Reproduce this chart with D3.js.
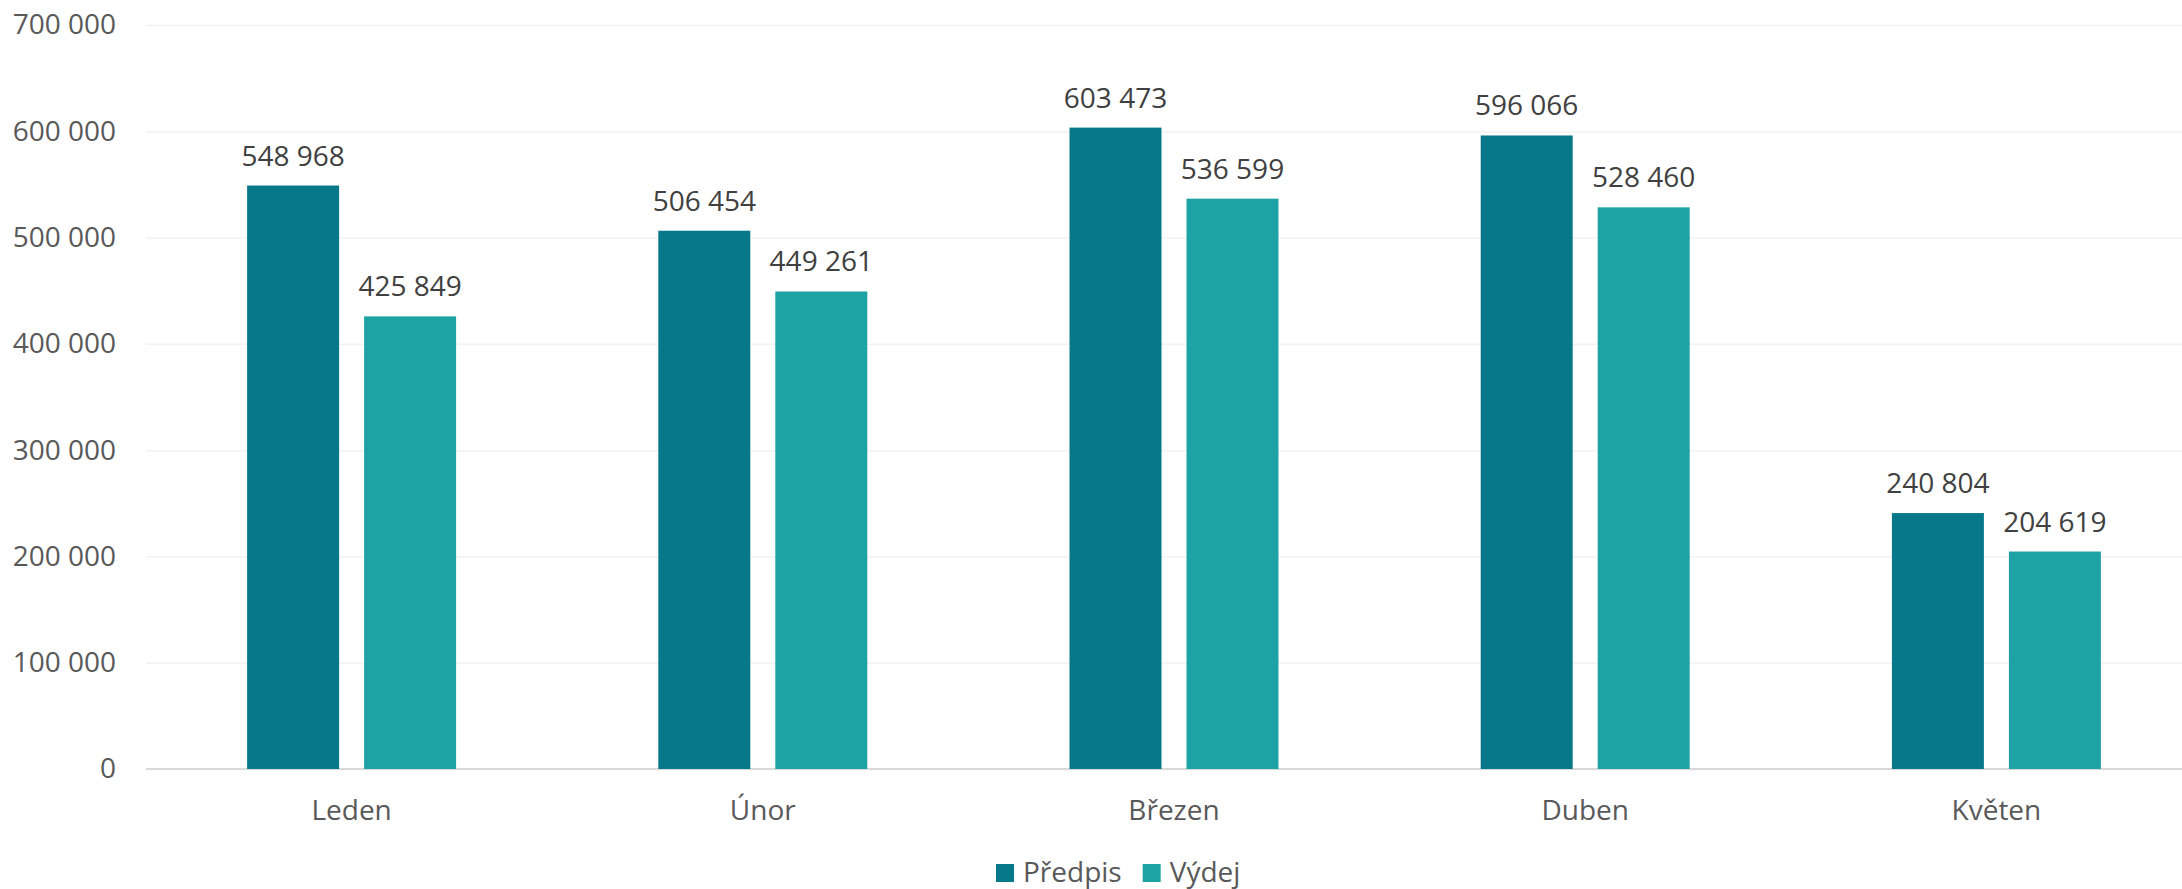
<!DOCTYPE html>
<html>
<head>
<meta charset="utf-8">
<script src="https://cdn.jsdelivr.net/npm/d3@7"></script>
<style>
    body { margin: 0; background: #ffffff; }
    svg { display: block; font-family: "Open Sans", sans-serif; }
</style>
</head>
<body>
<div id="chart"></div>
<script>
var months = ["Leden", "Únor", "Březen", "Duben", "Květen"];
var seriesNames = ["Předpis", "Výdej"];
var predpis = [548968, 506454, 603473, 596066, 240804];
var vydej = [425849, 449261, 536599, 528460, 204619];
var yTicks = [0, 100000, 200000, 300000, 400000, 500000, 600000, 700000];

var colors = { "Předpis": "#07788A", "Výdej": "#1EA3A4" };

var width = 2182, height = 889;
// window.top is read-only, so plot edges get their own names
var plotLeft = 146, plotRight = 2202, plotTop = 25, plotBottom = 769;

var locale = d3.formatLocale({ decimal: ",", thousands: " ", grouping: [3], currency: ["", ""] });
var fmt = locale.format(",");

var data = months.map(function (m, i) {
    return { month: m, values: [
        { name: "Předpis", value: predpis[i] },
        { name: "Výdej", value: vydej[i] }
    ]};
});

var svg = d3.select("#chart").append("svg")
    .attr("width", width)
    .attr("height", height)
    .style("overflow", "hidden");

var x0 = d3.scaleBand().domain(months).range([plotLeft, plotRight])
    .paddingInner(0.4918).paddingOuter(0.2459);
var x1 = d3.scaleBand().domain(seriesNames).range([0, x0.bandwidth()])
    .paddingInner(0.2137).paddingOuter(0);
var y = d3.scaleLinear().domain([0, 700000]).range([plotBottom, plotTop]);

// gridlines + y labels
var yAxis = svg.append("g")
    .attr("transform", "translate(" + plotLeft + ",0)")
    .call(d3.axisLeft(y).tickValues(yTicks).tickFormat(fmt)
        .tickSize(-(width - plotLeft)).tickPadding(30));
yAxis.select(".domain").remove();
yAxis.selectAll("line").attr("stroke", "#f2f2f2").attr("stroke-width", 1.5);
yAxis.selectAll("text")
    .attr("fill", "#595959")
    .style("font-size", "28px")
    .style("font-family", "'Open Sans', sans-serif");

// zero line
svg.append("line")
    .attr("x1", plotLeft).attr("x2", width)
    .attr("y1", y(0)).attr("y2", y(0))
    .attr("stroke", "#d9d9d9").attr("stroke-width", 2);

var groups = svg.selectAll(".grp")
    .data(data)
    .enter().append("g")
    .attr("class", "grp")
    .attr("transform", function (d) { return "translate(" + x0(d.month) + ",0)"; });

groups.selectAll("rect")
    .data(function (d) { return d.values; })
    .enter().append("rect")
    .attr("x", function (d) { return x1(d.name); })
    .attr("y", function (d) { return y(d.value); })
    .attr("width", x1.bandwidth())
    .attr("height", function (d) { return y(0) - y(d.value); })
    .attr("fill", function (d) { return colors[d.name]; });

groups.selectAll(".lbl")
    .data(function (d) { return d.values; })
    .enter().append("text")
    .attr("class", "lbl")
    .attr("x", function (d) { return x1(d.name) + x1.bandwidth() / 2; })
    .attr("y", function (d) { return y(d.value) - 20; })
    .attr("text-anchor", "middle")
    .attr("fill", "#404040")
    .style("font-size", "28px")
    .text(function (d) { return fmt(d.value); });

// x axis labels
var xAxis = svg.append("g")
    .attr("transform", "translate(0," + plotBottom + ")")
    .call(d3.axisBottom(x0).tickSize(0).tickPadding(0));
xAxis.select(".domain").remove();
xAxis.selectAll("text")
    .attr("y", 51)
    .attr("dy", 0)
    .attr("fill", "#595959")
    .style("font-size", "28px")
    .style("font-family", "'Open Sans', sans-serif");

// legend
var legend = svg.append("g").attr("transform", "translate(996,864)");
var lx = 0;
seriesNames.forEach(function (name) {
    legend.append("rect")
        .attr("x", lx).attr("y", 0)
        .attr("width", 18).attr("height", 18)
        .attr("fill", colors[name]);
    var t = legend.append("text")
        .attr("x", lx + 27).attr("y", 18)
        .attr("fill", "#595959")
        .style("font-size", "28px")
        .text(name);
    lx += 27 + t.node().getComputedTextLength() + 21;
});
</script>
</body>
</html>
